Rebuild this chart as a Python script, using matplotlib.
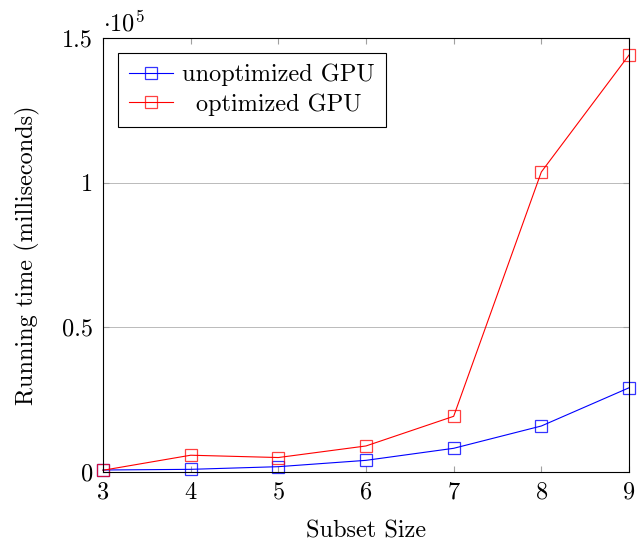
import matplotlib
matplotlib.use("Agg")
import matplotlib.pyplot as plt

plt.rcParams['font.family'] = ['cmr10', 'DejaVu Serif']
plt.rcParams['mathtext.fontset'] = 'cm'
plt.rcParams['axes.formatter.use_mathtext'] = True

subset_sizes = [3, 4, 5, 6, 7, 8, 9]
unoptimized_gpu = [690, 920, 1840, 4030, 8190, 15900, 29100]
optimized_gpu = [600, 5800, 5000, 9000, 19250, 103700, 144100]
y_ticks = [0, 0.5e5, 1e5, 1.5e5]
y_tick_labels = ["0", "0.5", "1", "1.5"]

FS = 17.5

fig = plt.figure(figsize=(6.42, 5.42), dpi=100)
ax = fig.add_axes([103/642, 70/542, 526/642, 434/542])

ax.plot(subset_sizes, unoptimized_gpu, color='blue', lw=0.8, marker='s',
        markersize=8.5, markerfacecolor='none', markeredgewidth=0.9,
        markeredgecolor=(0, 0, 1, 0.8),
        label='unoptimized GPU', clip_on=False)
ax.plot(subset_sizes, optimized_gpu, color='red', lw=0.8, marker='s',
        markersize=8.5, markerfacecolor='none', markeredgewidth=0.9,
        markeredgecolor=(1, 0, 0, 0.75),
        label='optimized GPU', clip_on=False)

ax.set_xlim(3, 9)
ax.set_ylim(0, 1.5e5)
ax.set_xticks(subset_sizes)
ax.set_yticks(y_ticks)
ax.set_yticklabels(y_tick_labels)
ax.grid(axis='y', color='#b0b0b0', lw=0.6)
ax.set_axisbelow(True)
ax.tick_params(direction='in', length=4, color='#a0a0a0', labelsize=FS,
               top=True, right=True, pad=7)

ax.text(0.0, 1.003, r'$\cdot 10^{5}$', transform=ax.transAxes, fontsize=FS,
        ha='left', va='bottom')

ax.set_xlabel('Subset Size', fontsize=FS, labelpad=12)
ax.set_ylabel('Running time (milliseconds)', fontsize=FS, labelpad=16)

leg = ax.legend(loc='upper left', fontsize=FS, fancybox=False, framealpha=1,
                edgecolor='black', borderaxespad=0.6, handlelength=1.85,
                handletextpad=0.35, borderpad=0.45, labelspacing=0.3)
leg.get_frame().set_linewidth(0.8)

for sp in ax.spines.values():
    sp.set_linewidth(0.8)
    sp.set_zorder(3)

# center the legend labels like pgfplots does
fig.canvas.draw()
renderer = fig.canvas.get_renderer()
texts = leg.get_texts()
widths = [t.get_window_extent(renderer).width for t in texts]
wmax = max(widths)
for t, w in zip(texts, widths):
    t.set_x((wmax - w) / 2)

fig.savefig('out.png', dpi=100)
